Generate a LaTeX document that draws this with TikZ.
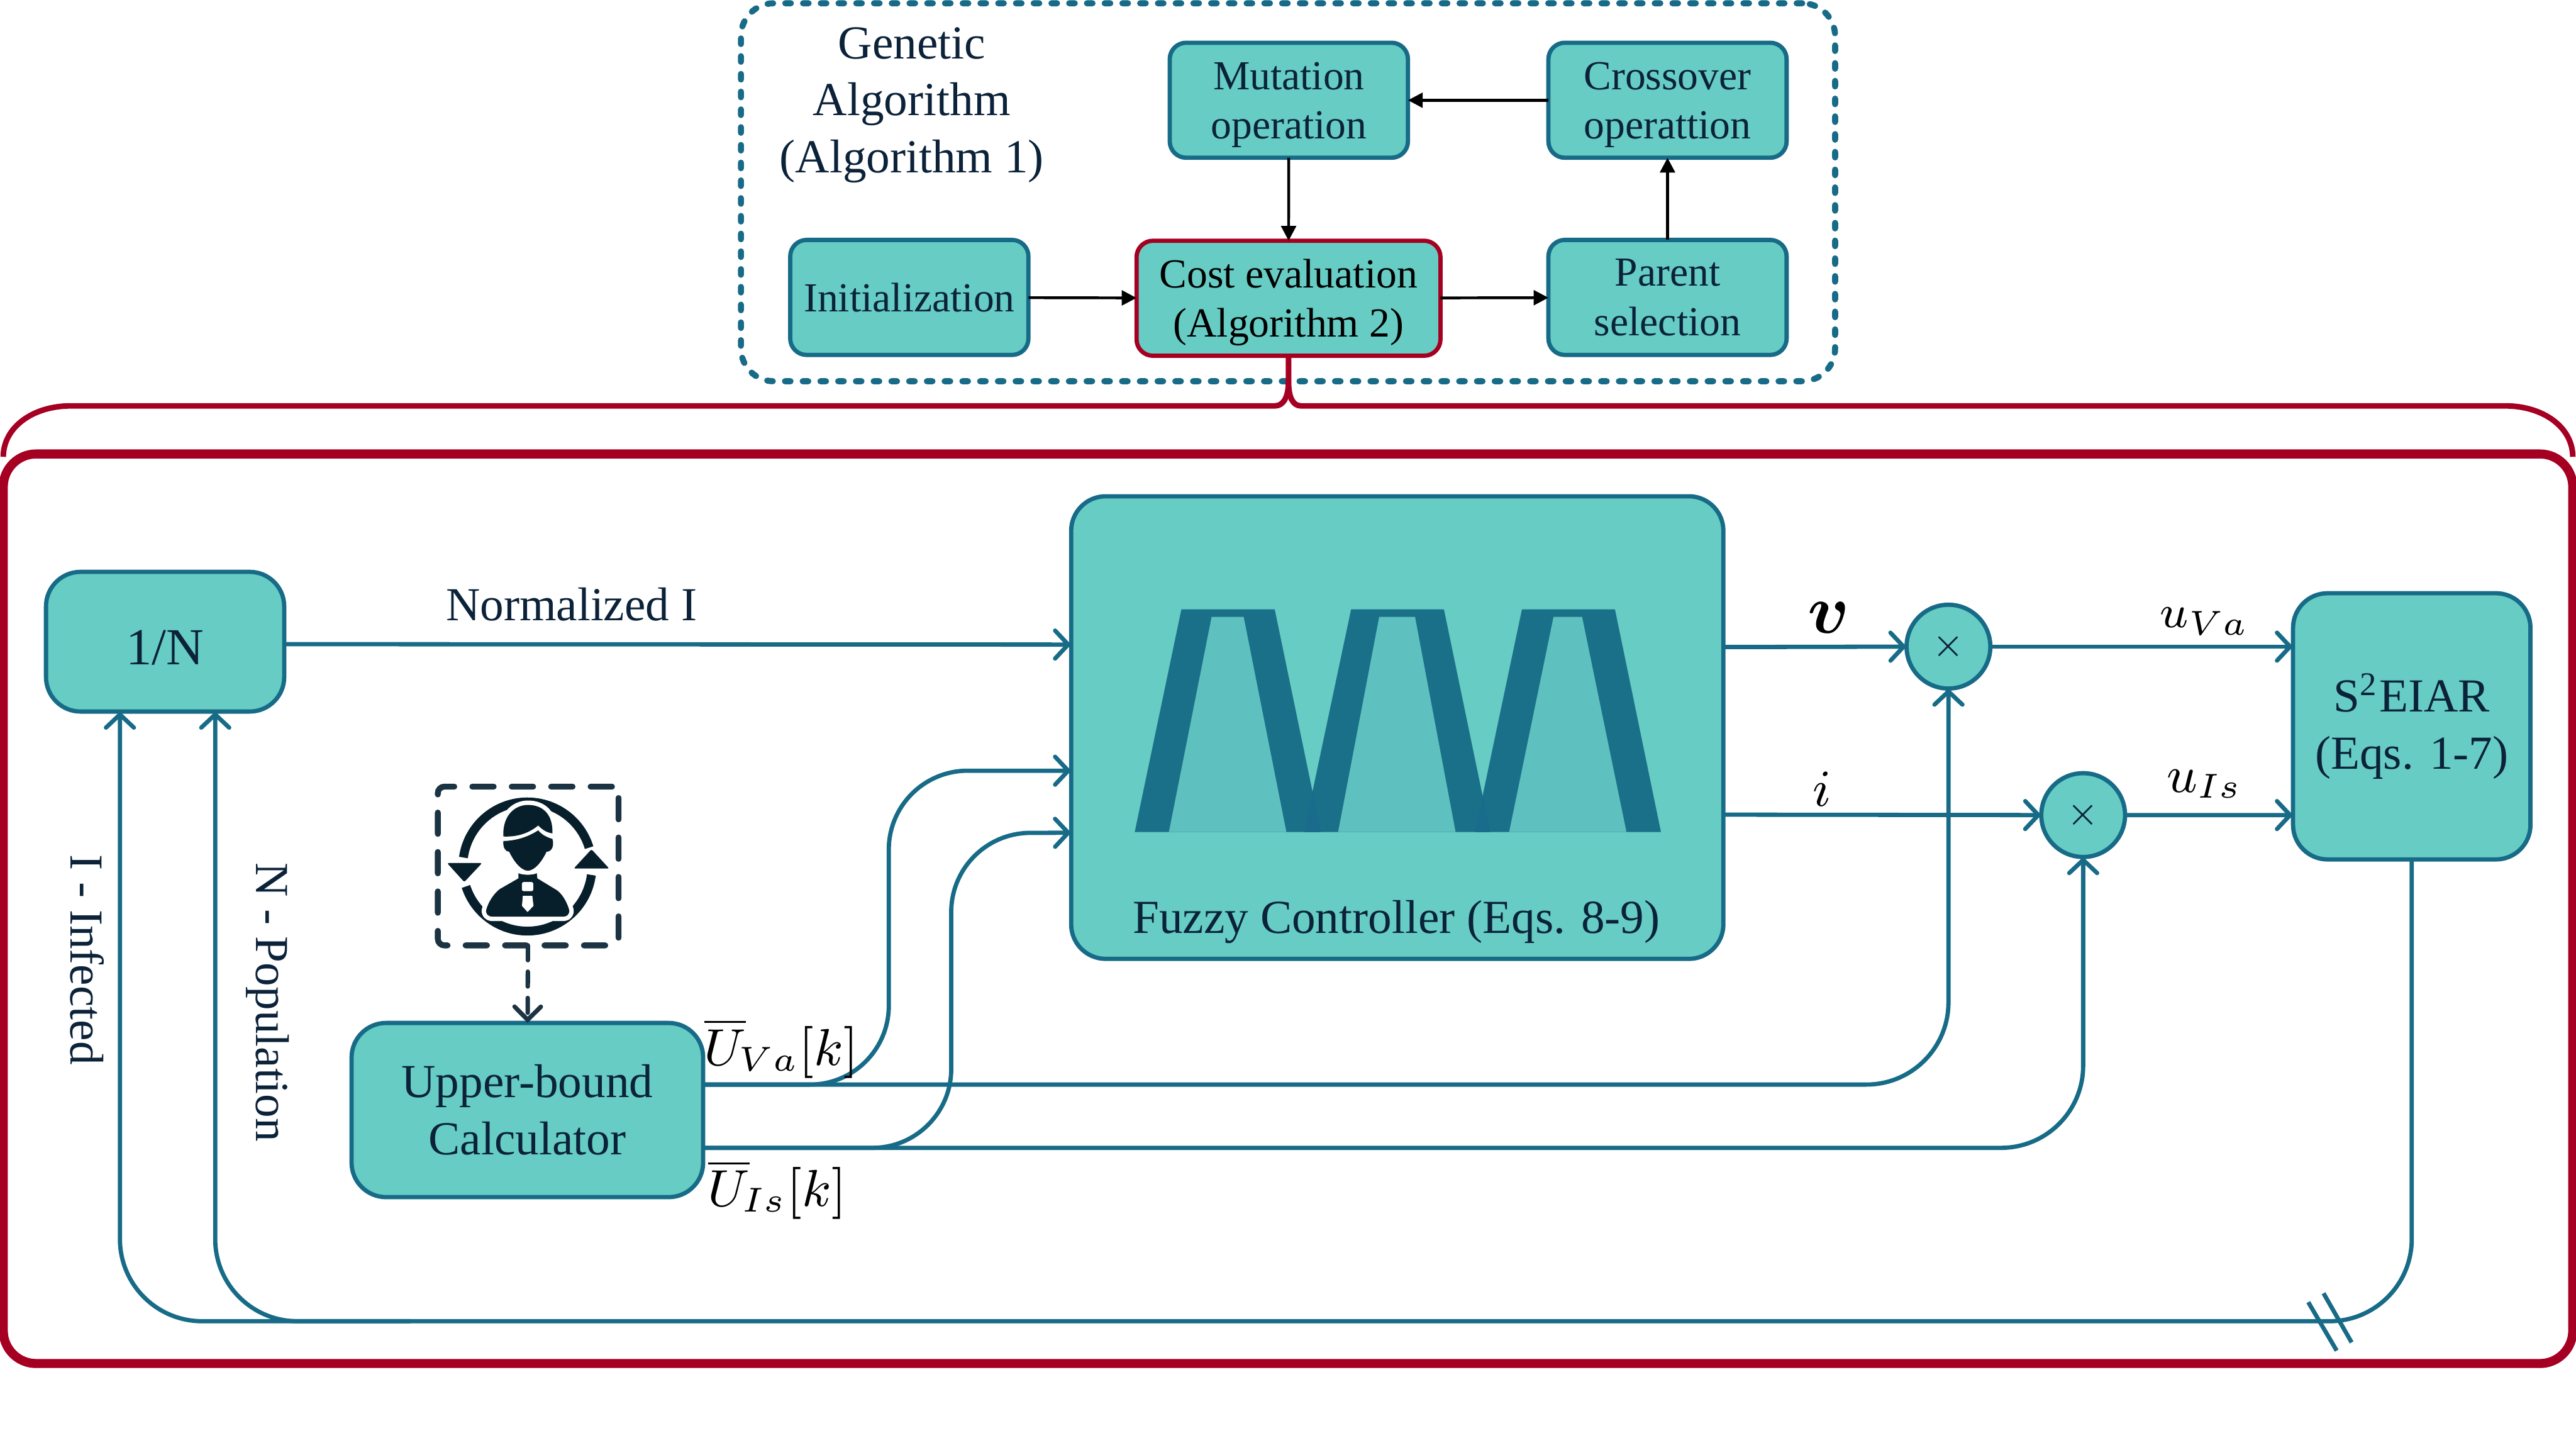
\documentclass[tikz,border=0pt]{standalone}
\usepackage{amsmath, amssymb}
\usepackage{bm}
\usepackage{fontspec}
\setmainfont{Liberation Serif}
\usetikzlibrary{arrows.meta, positioning, calc}
\definecolor{fillteal}{HTML}{66CCC4}
\definecolor{lineteal}{HTML}{176B87}
\definecolor{inkblue}{HTML}{0B2239}
\definecolor{darkred}{HTML}{A50021}
\definecolor{icondark}{HTML}{071F2B}
\definecolor{icondash}{HTML}{1B3342}
\definecolor{trapfill}{HTML}{5EC0BF}
\definecolor{trapline}{HTML}{1B7089}
\definecolor{trapover}{HTML}{196C8C}
\tikzset{
    smallbox/.style={draw=lineteal, fill=fillteal, line width=0.026cm, rounded corners=0.1cm, minimum width=1.45cm, minimum height=0.7cm, inner sep=0pt, outer sep=0pt, align=center, text=inkblue, font=\fontsize{7.15}{8.5}\selectfont},
    bigbox/.style={draw=lineteal, fill=fillteal, line width=0.026cm, rounded corners=0.21cm, inner sep=0pt, outer sep=0pt, align=center, text=inkblue, font=\fontsize{8.2}{9.9}\selectfont},
    mulnode/.style={circle, draw=lineteal, fill=fillteal, line width=0.026cm, minimum size=0.51cm, inner sep=0pt, outer sep=0pt, text=inkblue, font=\fontsize{6}{7}\selectfont},
    plainlabel/.style={inner sep=0pt, outer sep=0pt, text=inkblue, align=center, font=\fontsize{8.2}{9.9}\selectfont},
    mathlabel/.style={inner sep=0pt, outer sep=0pt, text=black, font=\fontsize{8.2}{9.9}\selectfont},
    flowline/.style={draw=lineteal, line width=0.026cm, -{Straight Barb[length=0.08cm, width=0.17cm, line cap=round]}},
    plainflow/.style={draw=lineteal, line width=0.026cm},
    gaflow/.style={draw=black, line width=0.017cm, -{Triangle[length=0.09cm, width=0.09cm]}},
    redline/.style={draw=darkred, line width=0.034cm},
    halo/.style={preaction={draw=white, line width=#1, line join=round}},
}

\begin{document}
\begin{tikzpicture}
    \useasboundingbox (0, 0) rectangle (15.68, -8.823);

    % genetic algorithm
    \node[draw=lineteal, line width=0.037cm, dash pattern=on 0.034cm off 0.074cm, line cap=round, rounded corners=0.2cm, minimum width=6.66cm, minimum height=2.3cm, inner sep=0pt] (gaframe) at (7.84, -1.17) {};
    \node[plainlabel] (galabel) at (5.55, -0.64) {Genetic\\Algorithm\\(Algorithm 1)};
    \node[smallbox, text depth=0cm] (mutation) at (7.845, -0.61) {Mutation\\operation};
    \node[smallbox, text depth=0cm] (crossover) at (10.15, -0.61) {Crossover\\operattion};
    \node[smallbox] (init) at (5.535, -1.81) {Initialization};
    \node[smallbox, draw=darkred, text=black, text depth=0cm, minimum width=1.85cm] (cost) at (7.843, -1.815) {Cost evaluation\\(Algorithm 2)};
    \node[smallbox] (parent) at (10.15, -1.81) {Parent\\selection};
    \draw[gaflow] (crossover) -- (mutation);
    \draw[gaflow] (mutation) -- (cost);
    \draw[gaflow] (init) -- (cost);
    \draw[gaflow] (cost) -- (parent);
    \draw[gaflow] (parent) -- (crossover);

    % brace and closed loop frame
    \node[draw=darkred, line width=0.055cm, rounded corners=0.2cm, minimum width=15.64cm, minimum height=5.535cm, inner sep=0pt] (loopframe) at (7.84, -5.53) {};
    \coordinate (braceleft) at (0.02, -2.78);
    \coordinate (braceright) at (15.66, -2.78);
    \draw[redline] (cost.south) -- (7.843, -2.32) .. controls (7.843, -2.42) and (7.81, -2.47) .. (7.76, -2.47) -- (0.43, -2.47) .. controls (0.2, -2.47) and (0.02, -2.6) .. (braceleft);
    \draw[redline] (7.843, -2.32) .. controls (7.843, -2.42) and (7.87, -2.47) .. (7.92, -2.47) -- (15.25, -2.47) .. controls (15.48, -2.47) and (15.66, -2.6) .. (braceright);

    % blocks
    \node[bigbox, minimum width=1.45cm, minimum height=0.85cm, font=\fontsize{9}{10}\selectfont, text height=0.275cm, text depth=0cm] (inv) at (1.005, -3.905) {1/N};
    \node[bigbox, minimum width=3.97cm, minimum height=2.815cm] (fuzzy) at (8.505, -4.4275) {};
    \node[plainlabel] (fuzzylabel) at (8.5, -5.61) {Fuzzy Controller (Eqs. 8-9)};
    \node[bigbox, minimum width=1.445cm, minimum height=1.62cm] (sys) at (14.68, -4.42) {S\textsuperscript{2}EIAR\\(Eqs. 1-7)};
    \node[bigbox, minimum width=2.14cm, minimum height=1.06cm] (calc) at (3.21, -6.755) {Upper-bound\\Calculator};
    \node[mulnode] (mulv) at (11.86, -3.935) {$\times$};
    \node[mulnode] (muli) at (12.68, -4.96) {$\times$};

    % membership functions
    \fill[trapline] (6.907, -5.063) -- (7.191, -3.708) -- (7.759, -3.708) -- (8.04, -5.063) -- cycle;
    \fill[trapfill] (7.115, -5.063) -- (7.375, -3.754) -- (7.57, -3.754) -- (7.83, -5.063) -- cycle;
    \fill[trapline] (7.937, -5.063) -- (8.224, -3.708) -- (8.789, -3.708) -- (9.07, -5.063) -- cycle;
    \fill[trapfill] (8.145, -5.063) -- (8.395, -3.754) -- (8.613, -3.754) -- (8.86, -5.063) -- cycle;
    \fill[trapline] (8.978, -5.063) -- (9.264, -3.708) -- (9.83, -3.708) -- (10.11, -5.063) -- cycle;
    \fill[trapfill] (9.186, -5.063) -- (9.456, -3.754) -- (9.63, -3.754) -- (9.9, -5.063) -- cycle;
    \fill[trapover] (7.937, -5.063) -- (7.99, -4.814) -- (8.04, -5.063) -- cycle;
    \fill[trapover] (8.978, -5.063) -- (9.028, -4.84) -- (9.07, -5.063) -- cycle;

    % person icon
    \node[draw=icondash, line width=0.036cm, dash pattern=on 0.13cm off 0.11cm, line cap=round, rounded corners=0.04cm, minimum width=1.1cm, minimum height=0.966cm, inner sep=0pt, outer sep=0pt] (iconframe) at (3.215, -5.27) {};
    \draw[icondark, line width=0.054cm] (3.21, -5.273) +(172:0.393) arc[start angle=172, end angle=17, radius=0.393];
    \draw[icondark, line width=0.054cm] (3.21, -5.273) +(-7.5:0.393) arc[start angle=-7.5, end angle=-162, radius=0.393];
    \begin{scope}[shift={(2.385, -4.554)}, x=0.001798cm, y=-0.0018677cm]
        \fill[icondark, rounded corners=0.01cm, halo=0.03cm] (187, 375) -- (305, 375) -- (245, 437) -- cycle;
        \fill[icondark, rounded corners=0.01cm, halo=0.03cm] (615, 393) -- (735, 393) -- (675, 330) -- cycle;
        % body
        \fill[icondark, halo=0.054cm] (428, 408) .. controls (440, 415) and (480, 415) .. (490, 408) -- (492, 425) -- (560, 465) .. controls (580, 480) and (595, 510) .. (600, 530) .. controls (600, 545) and (590, 550) .. (580, 550) -- (340, 550) .. controls (325, 550) and (315, 540) .. (320, 525) .. controls (328, 500) and (345, 475) .. (365, 460) -- (428, 425) -- cycle;
        \fill[white, rounded corners=0.01cm] (440, 437) rectangle (478, 467);
        \fill[white] (443, 482) -- (475, 482) -- (479, 515) -- (459, 535) -- (440, 515) -- cycle;
        % head
        \fill[icondark, halo=0.054cm] (377, 285) .. controls (375, 215) and (420, 185) .. (460, 185) .. controls (510, 185) and (545, 215) .. (543, 278) .. controls (520, 275) and (505, 262) .. (495, 252) .. controls (460, 280) and (420, 290) .. (377, 288) -- cycle;
        \fill[icondark] (377, 303) .. controls (375, 325) and (385, 338) .. (397, 338) .. controls (415, 375) and (440, 400) .. (460, 400) .. controls (480, 400) and (505, 375) .. (523, 338) .. controls (540, 338) and (550, 320) .. (543, 296) .. controls (520, 290) and (505, 280) .. (495, 268) .. controls (460, 290) and (420, 302) .. (377, 303) -- cycle;
    \end{scope}
    \draw[draw=icondash, line width=0.027cm, dash pattern=on 0.09cm off 0.07cm, line cap=round, -{Straight Barb[length=0.08cm, width=0.16cm, line cap=round]}] (iconframe) -- (calc);

    % signal lines
    \draw[flowline] ([yshift=-0.015cm]inv.east) -- ([yshift=0.505cm]fuzzy.west) node[plainlabel, pos=0.365, above=0.14cm] (normlabel) {Normalized I};
    \draw[flowline] ([yshift=0.49cm]fuzzy.east) -- (mulv.west);
    \draw[flowline] ([yshift=-0.53cm]fuzzy.east) -- (muli.west);
    \draw[flowline] (mulv.east) -- ([yshift=0.485cm]sys.west);
    \draw[flowline] (muli.east) -- ([yshift=-0.54cm]sys.west);
    \draw[flowline, rounded corners=0.48cm] ([yshift=0.155cm]calc.east) -- (5.41, -6.6) -- (5.41, -4.69) -- ([yshift=-0.2625cm]fuzzy.west);
    \draw[flowline, rounded corners=0.48cm] ([yshift=-0.23cm]calc.east) -- (5.79, -6.985) -- (5.79, -5.07) -- ([yshift=-0.64cm]fuzzy.west);
    \draw[flowline, rounded corners=0.5cm] ([yshift=0.155cm]calc.east) -| (mulv.south);
    \draw[flowline, rounded corners=0.5cm] ([yshift=-0.23cm]calc.east) -| (muli.south);

    % feedback
    \coordinate (busjoin) at (2.5, -8.04);
    \draw[flowline, rounded corners=0.5cm] (sys.south) |- (0.73, -8.04) -- ([xshift=-0.275cm]inv.south);
    \draw[flowline, rounded corners=0.5cm] (busjoin) -- (1.31, -8.04) -- ([xshift=0.305cm]inv.south);
    \coordinate (breaka) at (14.05, -7.924);
    \coordinate (breakb) at (14.223, -8.219);
    \coordinate (breakc) at (14.143, -7.87);
    \coordinate (breakd) at (14.314, -8.169);
    \draw[plainflow] (breaka) -- (breakb);
    \draw[plainflow] (breakc) -- (breakd);

    % labels
    \node[plainlabel, rotate=-90] (infected) at (0.53, -5.84) {I - Infected};
    \node[plainlabel, rotate=-90] (population) at (1.63, -6.10) {N - Population};
    \node[mathlabel, font=\fontsize{8.8}{10}\selectfont] (uvabar) at (4.755, -6.38) {$\overline{U}_{\!Va}[k]$};
    \node[mathlabel, font=\fontsize{8.8}{10}\selectfont] (uisbar) at (4.73, -7.24) {$\overline{U}_{\!Is}[k]$};
    \node[mathlabel, font=\fontsize{12}{13}\selectfont] (vlabel) at (11.13, -3.76) {$\bm{v}$};
    \node[mathlabel, font=\fontsize{9.5}{10}\selectfont] (ilabel) at (11.09, -4.8) {$i$};
    \node[mathlabel] (uvalabel) at (13.42, -3.78) {$u_{Va}$};
    \node[mathlabel, font=\fontsize{9}{10}\selectfont] (uislabel) at (13.42, -4.77) {$u_{Is}$};
\end{tikzpicture}
\end{document}
